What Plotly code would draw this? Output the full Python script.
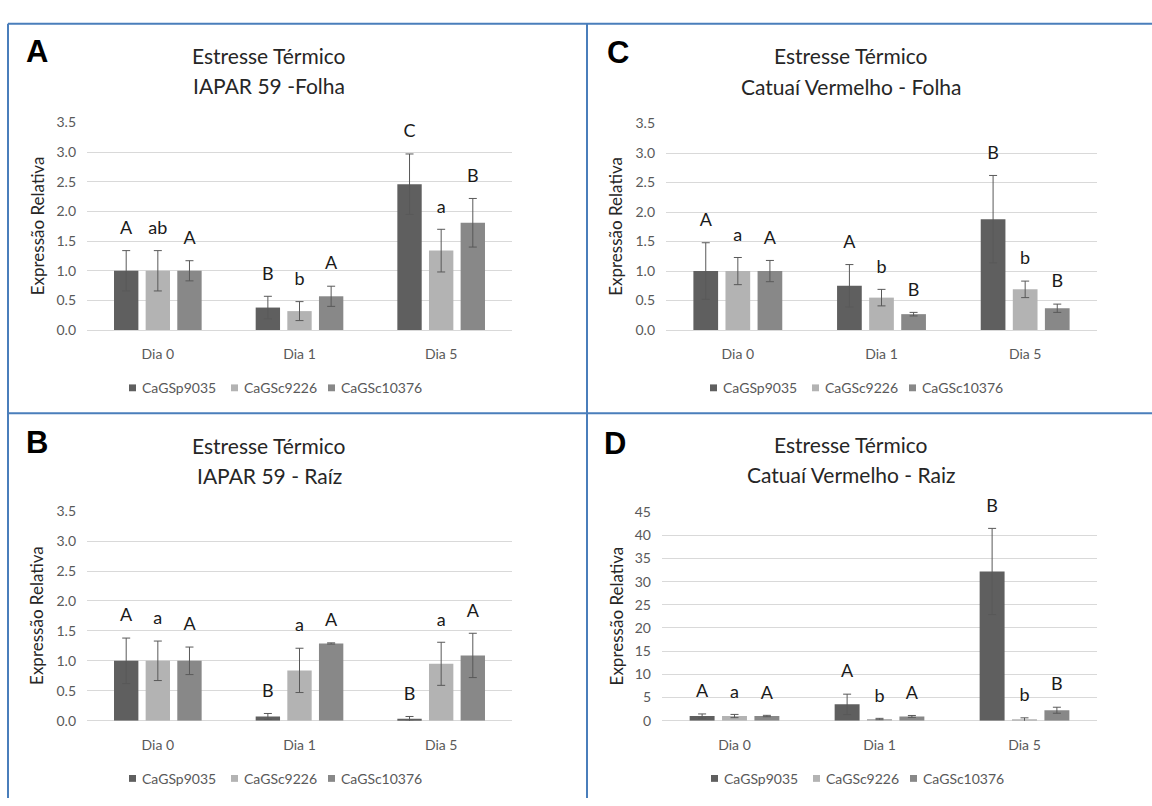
import plotly.graph_objects as go

W, H = 1152, 806

# ---- data ---------------------------------------------------------------
days = ["Dia 0", "Dia 1", "Dia 5"]
genes = ["CaGSp9035", "CaGSc9226", "CaGSc10376"]
gene_colors = ["#5f5f5f", "#b3b3b3", "#888888"]

# A: IAPAR 59 - Folha
a_p9035 = [1.00, 0.38, 2.46]
a_p9035_err = [0.34, 0.19, 0.51]
a_c9226 = [1.00, 0.32, 1.34]
a_c9226_err = [0.34, 0.16, 0.36]
a_c10376 = [1.00, 0.57, 1.81]
a_c10376_err = [0.17, 0.17, 0.41]
a_letters = [["A", "B", "C"], ["ab", "b", "a"], ["A", "A", "B"]]

# B: IAPAR 59 - Raíz
b_p9035 = [1.00, 0.07, 0.03]
b_p9035_err = [0.38, 0.05, 0.04]
b_c9226 = [1.00, 0.84, 0.95]
b_c9226_err = [0.33, 0.37, 0.36]
b_c10376 = [1.00, 1.29, 1.09]
b_c10376_err = [0.23, 0.01, 0.37]
b_letters = [["A", "B", "B"], ["a", "a", "a"], ["A", "A", "A"]]

# C: Catuaí Vermelho - Folha
c_p9035 = [1.00, 0.75, 1.88]
c_p9035_err = [0.48, 0.36, 0.74]
c_c9226 = [1.00, 0.55, 0.69]
c_c9226_err = [0.23, 0.14, 0.14]
c_c10376 = [1.00, 0.27, 0.37]
c_c10376_err = [0.18, 0.03, 0.07]
c_letters = [["A", "A", "B"], ["a", "b", "b"], ["A", "B", "B"]]

# D: Catuaí Vermelho - Raiz
d_p9035 = [1.00, 3.52, 32.2]
d_p9035_err = [0.45, 2.2, 9.3]
d_c9226 = [1.00, 0.35, 0.21]
d_c9226_err = [0.35, 0.15, 0.40]
d_c10376 = [1.00, 0.92, 2.25]
d_c10376_err = [0.15, 0.20, 0.65]
d_letters = [["A", "A", "B"], ["a", "b", "b"], ["A", "A", "B"]]

y_title = "Expressão Relativa"
main_title = "Estresse Térmico"

# ---- layout helpers (pixel -> paper) -------------------------------------
def fx(px):
    return px / W


def fy(py):
    return 1 - py / H


FONT = "Lato, 'Open Sans', sans-serif"
GRID = "#d9d9d9"
TICK_COLOR = "#595959"
BORDER = "#4a7ebb"

panels = [
    dict(key="A", sub="IAPAR 59 -Folha", ax="", box=(87, 512, 116, 328),
         series=[(a_p9035, a_p9035_err), (a_c9226, a_c9226_err), (a_c10376, a_c10376_err)],
         letters=a_letters, yrange=[0, 3.5], dtick=0.5, fmt=".1f",
         tcx=269, t1y=47, t2y=78, lx=37, ly=43, leg=(129, 387), ytx=37),
    dict(key="B", sub="IAPAR 59 - Raíz", ax="2", box=(87, 512, 513, 727),
         series=[(b_p9035, b_p9035_err), (b_c9226, b_c9226_err), (b_c10376, b_c10376_err)],
         letters=b_letters, yrange=[0, 3.5], dtick=0.5, fmt=".1f",
         tcx=269, t1y=446, t2y=477, lx=37, ly=443, leg=(129, 786), ytx=37),
    dict(key="C", sub="Catuaí Vermelho - Folha", ax="3", box=(666, 1097, 117, 328),
         series=[(c_p9035, c_p9035_err), (c_c9226, c_c9226_err), (c_c10376, c_c10376_err)],
         letters=c_letters, yrange=[0, 3.5], dtick=0.5, fmt=".1f",
         tcx=851, t1y=48, t2y=79, lx=618, ly=44, leg=(710, 387), ytx=616),
    dict(key="D", sub="Catuaí Vermelho - Raiz", ax="4", box=(662, 1097, 514, 727),
         series=[(d_p9035, d_p9035_err), (d_c9226, d_c9226_err), (d_c10376, d_c10376_err)],
         letters=d_letters, yrange=[0, 45], dtick=5, fmt="d",
         tcx=851, t1y=445, t2y=476, lx=615, ly=444, leg=(711, 786), ytx=616),
]

legend_offsets = [0, 102, 199]

fig = go.Figure()
layout = dict(
    width=W, height=H,
    margin=dict(l=0, r=0, t=0, b=0),
    paper_bgcolor="white", plot_bgcolor="white",
    barmode="group", scattermode="group",
    bargap=0.33, bargroupgap=0.23,
    showlegend=False,
    font=dict(family=FONT, color=TICK_COLOR),
)
annotations = []
shapes = []

for p in panels:
    xa, ya = "x" + p["ax"], "y" + p["ax"]
    x0, x1, y0, y1 = p["box"]
    for gi, gene in enumerate(genes):
        vals, errs = p["series"][gi]
        fig.add_trace(go.Bar(
            x=days, y=vals, name=gene, offsetgroup=gene,
            marker=dict(color=gene_colors[gi], line=dict(width=0)),
            error_y=dict(type="data", array=errs, visible=True,
                         color="#595959", thickness=1, width=4),
            xaxis=xa, yaxis=ya, showlegend=False,
        ))
        # significance letters sitting on top of each error bar
        fig.add_trace(go.Scatter(
            x=days, y=[v + e for v, e in zip(vals, errs)],
            text=p["letters"][gi], mode="markers+text", textposition="top center",
            marker=dict(size=18, opacity=0),
            textfont=dict(family=FONT, size=18, color="#1a1a1a"),
            offsetgroup=gene, xaxis=xa, yaxis=ya, cliponaxis=False,
            showlegend=False, hoverinfo="skip",
        ))

    layout["xaxis" + p["ax"]] = dict(
        domain=[fx(x0), fx(x1)], anchor=ya, type="category",
        showgrid=False, showline=False, zeroline=False, ticks="",
        tickfont=dict(family=FONT, size=14, color=TICK_COLOR),
        ticklabelstandoff=14, fixedrange=True,
    )
    layout["yaxis" + p["ax"]] = dict(
        domain=[fy(y1), fy(y0)], anchor=xa, range=p["yrange"],
        dtick=p["dtick"], tick0=0, tickformat=p["fmt"],
        showgrid=True, gridcolor=GRID, gridwidth=1,
        zeroline=True, zerolinecolor=GRID, zerolinewidth=1,
        showline=False, ticks="",
        tickfont=dict(family=FONT, size=14, color=TICK_COLOR),
        ticklabelstandoff=10, fixedrange=True,
    )

    # titles
    annotations.append(dict(text=main_title, x=fx(p["tcx"]), y=fy(p["t1y"]),
                            xref="paper", yref="paper", showarrow=False,
                            xanchor="center", yanchor="middle",
                            font=dict(family=FONT, size=21, color="#262626")))
    annotations.append(dict(text=p["sub"], x=fx(p["tcx"]), y=fy(p["t2y"]),
                            xref="paper", yref="paper", showarrow=False,
                            xanchor="center", yanchor="middle",
                            font=dict(family=FONT, size=21, color="#262626")))
    # panel letter
    annotations.append(dict(text="<b>%s</b>" % p["key"], x=fx(p["lx"]), y=fy(p["ly"]),
                            xref="paper", yref="paper", showarrow=False,
                            xanchor="center", yanchor="middle",
                            font=dict(family="Liberation Sans, Arial, sans-serif",
                                      size=31, color="black")))
    # y axis title
    annotations.append(dict(text=y_title, x=fx(p["ytx"]),
                            y=fy((y0 + y1) / 2), xref="paper", yref="paper",
                            showarrow=False, textangle=-90,
                            xanchor="center", yanchor="middle",
                            font=dict(family=FONT, size=17, color="#262626")))
    # legend
    lx0, ly0 = p["leg"]
    for gi, gene in enumerate(genes):
        sx = lx0 + legend_offsets[gi]
        shapes.append(dict(type="rect", xref="paper", yref="paper",
                           x0=fx(sx), x1=fx(sx + 7), y0=fy(ly0 + 3.5), y1=fy(ly0 - 3.5),
                           fillcolor=gene_colors[gi], line=dict(width=0)))
        annotations.append(dict(text=gene, x=fx(sx + 11), y=fy(ly0),
                                xref="paper", yref="paper", showarrow=False,
                                xanchor="left", yanchor="middle",
                                font=dict(family=FONT, size=14, color=TICK_COLOR)))

# panel frame lines
for (x0, y0, x1, y1) in [(8, 15, 1152, 15), (8, 413, 1152, 413),
                         (8, 15, 8, 806), (587, 15, 587, 806)]:
    shapes.append(dict(type="line", xref="paper", yref="paper",
                       x0=fx(x0), y0=fy(y0), x1=fx(x1), y1=fy(y1),
                       line=dict(color=BORDER, width=2)))

layout["annotations"] = annotations
layout["shapes"] = shapes
fig.update_layout(**layout)

fig.write_html("out.html", config={"displayModeBar": False})
